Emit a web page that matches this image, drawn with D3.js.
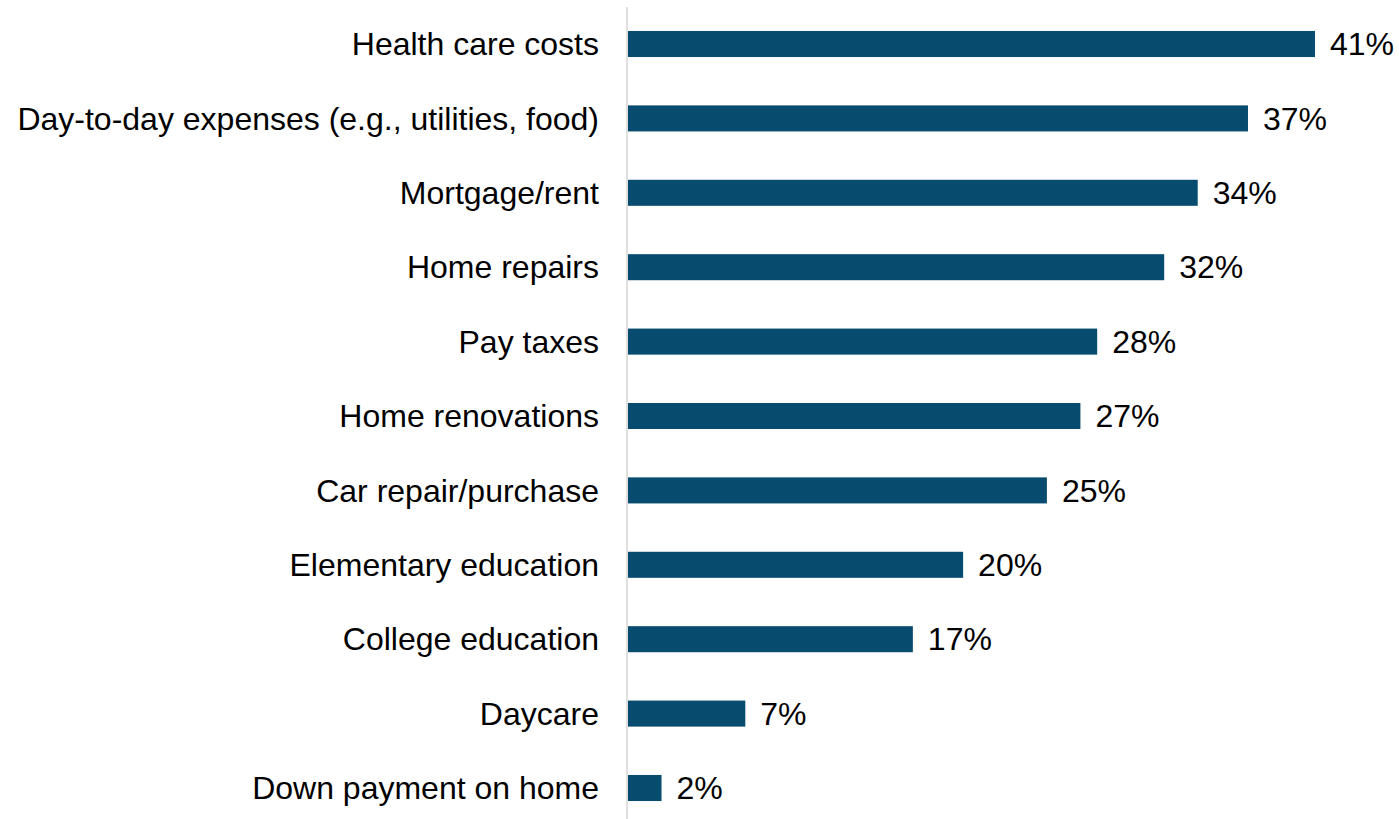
<!DOCTYPE html>
<html>
<head>
<meta charset="utf-8">
<script src="https://cdn.jsdelivr.net/npm/d3@7"></script>
<style>
  html, body { margin: 0; padding: 0; background: #ffffff; }
  svg { display: block; }
</style>
</head>
<body>
<svg id="chart" width="1399" height="819"></svg>
<script>
const categories = [
  "Health care costs",
  "Day-to-day expenses (e.g., utilities, food)",
  "Mortgage/rent",
  "Home repairs",
  "Pay taxes",
  "Home renovations",
  "Car repair/purchase",
  "Elementary education",
  "College education",
  "Daycare",
  "Down payment on home"
];
const values = [41, 37, 34, 32, 28, 27, 25, 20, 17, 7, 2];
const valueLabels = ["41%", "37%", "34%", "32%", "28%", "27%", "25%", "20%", "17%", "7%", "2%"];

const data = categories.map((c, i) => ({ cat: c, val: values[i], label: valueLabels[i] }));

const svg = d3.select("#chart");
const axisX = 627;
const font = "'Liberation Sans', Arial, sans-serif";

const x = d3.scaleLinear().domain([0, 41]).range([axisX + 1, 1315]);
const y = d3.scaleBand()
  .domain(categories)
  .range([6.8, 825.2])
  .paddingInner(0.65)
  .paddingOuter(0.325);

// bars
svg.append("g").selectAll("rect")
  .data(data)
  .join("rect")
  .attr("x", x(0))
  .attr("y", d => y(d.cat))
  .attr("width", d => x(d.val) - x(0))
  .attr("height", y.bandwidth())
  .attr("fill", "#074b6e");

// axis line
svg.append("line")
  .attr("x1", axisX).attr("x2", axisX)
  .attr("y1", 7).attr("y2", 819)
  .attr("stroke", "#d4d4d4")
  .attr("stroke-width", 1.5);

// category labels
svg.append("g").selectAll("text")
  .data(data)
  .join("text")
  .attr("x", axisX - 28)
  .attr("y", d => y(d.cat) + y.bandwidth() / 2)
  .attr("dy", "0.35em")
  .attr("text-anchor", "end")
  .attr("font-family", font)
  .attr("font-size", 32)
  .attr("fill", "#000")
  .text(d => d.cat);

// value labels
svg.append("g").selectAll("text")
  .data(data)
  .join("text")
  .attr("x", d => x(d.val) + 15)
  .attr("y", d => y(d.cat) + y.bandwidth() / 2)
  .attr("dy", "0.35em")
  .attr("text-anchor", "start")
  .attr("font-family", font)
  .attr("font-size", 32)
  .attr("fill", "#000")
  .text(d => d.label);
</script>
</body>
</html>
